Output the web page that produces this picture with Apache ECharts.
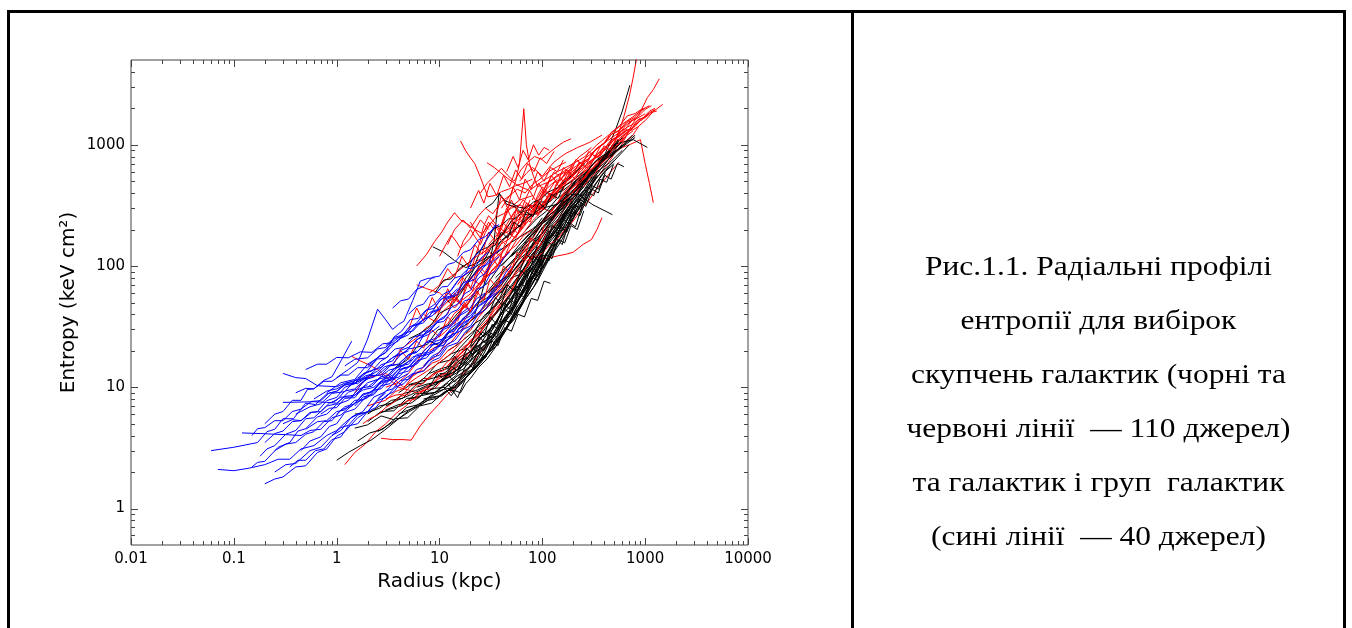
<!DOCTYPE html>
<html><head><meta charset="utf-8">
<script src="https://cdn.jsdelivr.net/npm/echarts@6.0.0/dist/echarts.min.js"></script>
<style>
html,body{margin:0;padding:0;background:#fff;width:1352px;height:628px;overflow:hidden;}
#chart{position:absolute;left:0;top:0;width:1352px;height:628px;}
.b{position:absolute;background:#000;}
#cap{position:absolute;left:854px;width:489px;top:239px;text-align:center;font-family:"Liberation Serif","Times New Roman",serif;font-size:27px;line-height:54px;color:#000;white-space:nowrap;transform:scaleX(1.165);transform-origin:50% 50%;}
</style></head><body>
<div id="chart"></div>
<div class="b" style="left:7px;top:10px;width:1339px;height:3px"></div>
<div class="b" style="left:7px;top:10px;width:3px;height:618px"></div>
<div class="b" style="left:851px;top:10px;width:3px;height:618px"></div>
<div class="b" style="left:1343px;top:10px;width:3px;height:618px"></div>
<div id="cap">Рис.1.1. Радіальні профілі<br>ентропії для вибірок<br>скупчень галактик (чорні та<br>червоні лінії&nbsp; — 110 джерел)<br>та галактик і груп&nbsp; галактик<br>(сині лінії&nbsp; — 40 джерел)</div>
<script>
// ---- axis definitions ----
const xTickValues = [0.01, 0.1, 1, 10, 100, 1000, 10000];
const xTickLabels = ['0.01', '0.1', '1', '10', '100', '1000', '10000'];
const yTickValues = [1, 10, 100, 1000];
const yTickLabels = ['1', '10', '100', '1000'];
const minorMultipliers = [2, 3, 4, 5, 6, 7, 8, 9];
const xRange = [0.01, 10000];
const yRange = [0.5, 5000];
const xTitle = 'Radius (kpc)';
const yTitle = 'Entropy (keV cm²)';

// ---- entropy profiles [radius kpc, K keV cm^2] ----
const blackProfiles = [
 [[1,2.5],[1.3,2.9],[1.7,3.3],[2.2,3.7],[2.9,4.4],[3.8,5.3],[5,6.4],[6.5,7.4],[8.5,8.7],[11,10.4],[14.5,12.5],[19,17.9],[25,21]],
 [[1.5,4.6],[2,4.9],[2.7,5.8],[3.6,5.4],[4.8,6.8],[6.3,7.2],[8.3,8.4],[11,9.6],[14.5,12.2],[19,14.2],[25,20.5],[33,26],[44,38],[58,53],[77,84],[100,120]],
 [[3,6.5],[4,7.2],[5.3,7.4],[7,8.8],[9.2,9.1],[12,10.8],[15,8.2],[18,11.9],[23,14.6],[30,22.5],[39,28],[51,45],[67,61],[88,97],[115,136],[160,225]],
 [[2,5.2],[2.7,6.3],[3.6,6.4],[4.8,8.1],[6.3,8.2],[8.4,10.7],[11,11.3],[14.5,15.2],[19,17.8],[25,25.5],[33,30],[44,47],[58,64],[77,100],[100,136],[135,210],[200,330]],
 [[5,10.5],[6.6,11.2],[8.7,11.9],[11.5,13.3],[15,16.1],[20,19.6],[26,26],[35,34],[46,49],[61,72],[80,105],[106,154],[140,200],[185,295],[245,355],[350,560]],
 [[10,13],[12,12.8],[14,11],[17,13.4],[21,15.6],[26,23.5],[33,26.5],[42,41],[54,51],[70,81],[90,109],[115,164],[150,215],[195,298],[250,380],[330,530],[500,740]],
 [[20,21],[26,28.5],[33,25.5],[42,36],[54,46],[70,70],[90,91],[115,131],[150,186],[195,255],[250,333],[330,480],[450,670],[700,1000]],
 [[8.6,144],[11,130],[14,111],[18,97],[22,104],[28,116],[36,128],[46,150],[60,173],[80,202],[100,235],[140,295],[200,395]],
 [[40,60],[50,80],[62,86],[78,123],[100,157],[125,210],[160,255],[200,365],[250,442],[320,650],[400,810],[510,1300],[600,1900],[710,3100]],
 [[3,7],[4,7.9],[5.3,8.7],[7,9.8],[9.2,10.6],[12,12.5],[16,14.4],[21,18.5],[28,22.6],[37,31.6],[48,43],[63,62],[83,93],[110,145],[145,196],[190,276],[260,402],[400,640]],
 [[6,10],[7.8,10.7],[10,11.1],[13,13.8],[17,15.7],[22,21.2],[29,24.5],[38,38.8],[50,52],[66,79],[86,104],[113,163],[150,221],[195,311],[260,412],[340,600],[450,710],[600,900]],
 [[4,9],[5.2,10.5],[6.8,10.8],[9,13.2],[12,14.3],[16,19.1],[21,22.5],[28,30.6],[37,43],[48,58],[64,84],[84,120],[110,167],[145,245],[190,323],[250,450],[320,550]],
 [[2.5,6],[3.3,6.6],[4.4,7.1],[5.8,8.8],[7.6,9],[10,11.1],[13,12.3],[17,16.1],[22,19.2],[29,27.5],[38,38],[50,54],[66,74],[87,112],[120,190]],
 [[12,20],[15,22.5],[19,26.5],[24,31.6],[31,41],[40,53],[52,70],[68,98],[88,132],[115,184],[150,245],[195,337],[250,412],[330,612],[430,745],[560,918],[800,1150]],
 [[15,30],[19,33.6],[24,41],[31,51],[40,64.7],[52,90],[68,119],[88,163],[115,215],[150,306],[195,382],[250,530],[330,676],[450,850]],
 [[10,16],[13,18.9],[17,20.6],[22,25.5],[28,32.3],[36,40.8],[47,53.9],[61,80.6],[80,103],[105,153],[135,196],[175,286],[230,372],[300,500],[390,666],[520,900]],
 [[7,9],[9,9.8],[11.5,10],[15,11.8],[19.5,13.2],[25,17.1],[32,20.1],[41,28.6],[53,36.3],[68,53],[88,72.5],[115,112],[150,157],[190,224],[240,330]],
 [[20,35],[25,40.8],[32,49],[41,63.2],[53,84.3],[68,112],[88,147],[113,204],[145,265],[190,357],[240,451],[310,632],[400,764],[480,1000]],
 [[2,6],[2.6,7],[3.4,7.4],[4.5,8.9],[5.9,9.4],[7.7,10.4],[10,11.3],[13,12.4],[17,14.1],[22,17.9],[29,21.6],[38,30.6],[49,39.2],[64,59],[83,81],[100,110]],
 [[30,55],[38,73.4],[48,88],[61,122],[78,147],[100,209],[128,255],[163,347],[208,431],[265,571],[340,686],[480,950]],
 [[8,13],[10,14.1],[12.5,14.9],[16,17.9],[20,19.6],[26,26.5],[33,31.4],[42,42.8],[54,55.9],[69,81.6],[88,106],[112,153],[143,206],[183,296],[250,420]],
 [[5,8],[6.5,8.5],[8.5,8.9],[11,9.6],[14,10],[18,12.6],[23,14.7],[29,19.4],[37,24.5],[47,33.7],[60,45],[77,67.3],[98,93],[125,138],[160,181],[200,250]],
 [[13,9],[16,10.5],[19,12.5],[23,16],[28,17.6],[34,23.5],[42,28.4],[52,38.8],[64,51],[78,71.4],[96,90],[120,133],[150,171],[190,255],[280,400]],
 [[40,100],[50,122],[63,147],[79,184],[100,235],[125,296],[160,353],[200,469],[250,549],[320,714],[420,833],[600,1050]],
 [[25,50],[31,57],[39,68.6],[49,86],[62,110],[78,143],[98,181],[124,245],[156,304],[197,388],[250,490],[310,632],[400,750]],
 [[3,12],[3.8,14.8],[4.8,16.7],[6,21.4],[7.6,22.5],[9.6,29.6],[12,32.3],[15,40.8],[19,49],[24,63.2],[30,73.5],[38,97.9],[48,118],[61,153],[77,186],[100,250]],
 [[1.5,6],[2,6.2],[2.6,6.7],[3.4,7.8],[4.4,8.1],[5.7,10.2],[7.4,12.3],[9.6,15.8],[12.5,16.7],[16,21.4],[21,27.4],[27,38.8],[35,47],[45,70]],
 [[60,150],[76,189],[96,225],[121,296],[153,353],[193,449],[244,529],[308,694],[390,794],[490,1000],[620,1060],[770,1100],[1050,950]],
 [[50,120],[63,143],[80,172],[100,224],[126,265],[160,347],[200,412],[250,530],[320,627],[400,775],[500,862],[640,1020],[800,1200]],
 [[18,28],[22,33.7],[27,37.2],[33,45.9],[41,56.8],[50,69.4],[62,88.2],[76,117],[94,147],[116,204],[143,245],[176,326],[217,392],[268,510],[330,608],[420,796],[560,1000]],
 [[9,12],[11,12.4],[13.5,13.2],[16.5,14.8],[20,16.7],[25,20],[31,23.5],[38,31.6],[47,39.2],[58,53],[72,68.6],[89,94.9],[110,125],[136,173],[168,225],[210,316],[260,402],[340,560]],
 [[22,40],[26,61],[30,98],[34,163],[38,400],[45,323],[55,306],[65,265],[75,265],[90,270],[110,306],[140,323],[180,388],[220,392],[310,320],[480,265]],
 [[15,60],[18,79.6],[21,93],[25,133],[29,167],[34,204],[40,216],[47,245],[55,245],[65,281],[77,294],[91,337],[110,338],[130,388],[160,421],[220,520]],
 [[12,50],[15,59],[18,70.6],[22,97],[27,110],[32,143],[39,157],[47,184],[57,206],[69,245],[84,270],[100,306],[125,353],[160,449],[200,510],[250,600]],
 [[100,200],[125,250],[155,294],[195,388],[240,461],[300,571],[370,686],[460,847],[570,941],[750,1200]],
 [[5,25],[6.3,27.5],[8,31.4],[10,40.8],[12.5,45],[16,59],[20,78.4],[25,102],[32,122],[40,163],[50,186],[63,224],[80,265],[110,330]],
 [[30,60],[37,73.4],[46,82.3],[57,110],[71,129],[88,168],[110,206],[136,265],[170,323],[210,418],[260,510],[330,653],[400,764],[520,1000]],
 [[7,8],[8.5,8.3],[10,8.5],[12,9.4],[14,9.4],[16,9],[18,10.7],[20,11.8],[24,14.6],[29,17.1],[35,21.4],[42,27.4],[51,36.7],[62,47],[75,69.4],[100,120]],
 [[2.5,4.3],[3.2,4.9],[4,5.5],[5.1,6.3],[6.5,7.1],[8.2,8.1],[10.5,8.5],[13,9.8],[17,11.4],[21,14.1],[27,17.2],[34,23],[43,29.4],[55,40.8],[70,57],[90,86.7],[110,108],[140,160]],
 [[35,80],[44,96.9],[55,113],[69,145],[86,172],[108,224],[135,270],[170,347],[212,412],[265,530],[330,637],[420,816],[560,1100]],
 [[70,200],[88,245],[110,284],[138,357],[172,412],[215,510],[270,598],[340,755],[430,862],[550,1100]],
 [[11,10],[12,9.2],[13,8.5],[14.5,9.7],[16,10.8],[18,12],[21,13.5],[25,16.8],[30,19.6],[36,25.5],[44,30.4],[54,42.8],[66,55.9],[81,79.6],[100,108],[125,153],[160,206],[200,310]],
 [[4,6],[5,6.5],[6.2,7],[7.7,7.8],[9.5,8.1],[12,9.4],[15,11.1],[19,14.1],[24,17.2],[30,23.5],[37,28.4],[46,38.8],[57,51],[71,71.4],[95,120]],
 [[80,180],[100,224],[125,255],[155,326],[195,382],[245,490],[305,578],[380,734],[480,833],[600,1000]],
 [[28,300],[33,330],[38,390],[44,343],[50,330],[60,304],[70,300],[82,337],[96,353],[115,408],[140,441],[180,530],[260,700]],
 [[1.6,3.6],[2.1,4.2],[2.8,4.5],[3.7,5.5],[4.9,5.6],[6.4,7],[8.4,7.4],[11,9.1],[14.5,10],[19,12.6],[25,15.7],[33,21.4],[43,28.4],[56,41]],
 [[8,24],[10,22],[12.5,28.6],[15.5,33.3],[19,40.8],[24,51],[30,63.2],[37,78.4],[46,100],[57,122],[71,163],[88,196],[110,250],[137,294],[170,377],[210,441],[300,580]],
 [[15,11],[18.5,13.3],[23,14.7],[28,18.4],[35,21.6],[43,29.6],[53,36.3],[66,51],[82,66.6],[100,93.8],[125,127],[155,178],[190,235],[240,316],[300,412],[380,571],[500,700]],
 [[9,60],[11,76.5],[13,78.4],[16,96.9],[20,108],[24,133],[29,142],[35,163],[42,186],[50,235],[60,265],[72,320]],
 [[25,30],[31,36.7],[38,44.1],[47,56.1],[58,68.6],[72,93.8],[89,118],[110,163],[136,206],[168,286],[208,363],[257,490],[318,608],[393,796],[486,941],[600,1150]],
 [[20,22],[23,30],[27,26],[31,38],[36,33],[42,50],[48,44],[56,68],[65,60],[75,92],[87,82],[100,125],[116,110],[135,170],[156,150],[181,230],[210,210],[245,320]],
 [[30,40],[35,55],[40,48],[46,70],[53,62],[62,92],[72,82],[83,120],[96,108],[111,160],[129,145],[150,210],[173,190],[200,280],[232,260],[270,360]],
 [[12,14],[14,18],[16,15.5],[18.5,21],[21,18.5],[24.5,26],[28,23],[32.5,33],[37,30],[43,44],[50,40],[58,60],[67,55],[78,82],[90,76],[105,115]],
 [[60,90],[70,125],[80,112],[93,165],[108,148],[125,215],[145,195],[168,280],[195,255],[226,360],[262,330],[304,460],[352,430],[410,590]],
 [[40,40],[46,55],[53,50],[61,72],[70,66],[81,95],[93,88],[107,125],[124,115],[143,165],[165,155],[190,215],[219,200],[253,285]],
 [[16,12],[18.5,16],[21,14.5],[24.5,19],[28,17.5],[32.5,24],[37,22],[43,31],[50,29],[58,40],[67,38],[78,54],[90,52],[104,75],[120,72]],
 [[100,140],[115,195],[133,175],[154,250],[178,225],[205,320],[237,290],[274,410],[316,380],[365,520],[422,490],[490,680]],
 [[8,10],[9.5,13],[11,11.5],[13,15],[15,13.5],[17.5,18],[20,16.5],[23.5,22],[27,20],[31.5,28],[36,26],[42,36],[49,34],[57,47]],
 [[200,250],[230,340],[265,310],[305,430],[350,400],[405,560],[466,520],[537,700],[620,660]],
 [[35,150],[40,190],[46,170],[53,230],[61,210],[70,280],[81,255],[93,330],[107,300],[123,390],[142,360],[163,460]]
];

const redProfiles = [
 [[1.2,2.3],[1.5,2.9],[1.9,3.4],[2.4,4.3],[3,5],[3.8,6.1],[4.8,7.1],[6,8.6],[7.6,9.7],[9.6,11.6],[12,12.9],[15,16.2],[20,20]],
 [[2.7,3.8],[3.5,3.7],[4.4,3.7],[5.3,3.66],[6.5,4.8],[8,6],[9.8,7.2],[12,8.8],[14,9.8],[17,13],[20,14.7],[24,18.4],[28,22]],
 [[6,100],[7.5,125],[9,160],[10.5,190],[12,230],[14,275],[16,240],[19,220],[22,200],[26,185],[30,215],[35,250],[42,270],[50,300],[60,320]],
 [[16,1075],[18,890],[20,780],[22,700],[25,540],[29.5,372],[34,380],[40,410],[47,430],[55,460],[65,480],[80,520]],
 [[40,300],[45,350],[50,400],[55,500],[60,700],[63,1200],[66,1980],[70,1000],[75,700],[82,550],[90,450],[100,470],[120,500],[145,560],[170,600]],
 [[29,710],[34,650],[40,580],[47,520],[56,470],[65,440],[75,420],[87,460],[100,500],[120,550],[140,600],[170,650],[200,700]],
 [[300,600],[360,680],[450,800],[520,880],[600,950],[700,1000],[800,1050],[900,1100],[1000,700],[1100,480],[1200,333]],
 [[300,600],[360,720],[430,850],[500,1050],[560,1300],[620,1700],[700,2500],[760,3500],[820,5000],[850,5600]],
 [[300,500],[360,610],[450,780],[540,970],[650,1180],[770,1530],[900,1860],[1050,2450],[1200,2850],[1370,3500]],
 [[350,550],[420,670],[500,840],[600,1020],[750,1180],[870,1430],[1000,1580],[1200,1880],[1480,2150]],
 [[30,60],[37,71],[45,79],[56,97],[70,120],[85,118],[110,115],[140,121],[170,125],[200,130],[250,151],[300,165],[340,200],[380,250]],
 [[6,70],[7.5,65],[10,60],[12,52],[14,45],[16,51],[20,59],[24,71],[28,79],[34,97],[40,108],[47,133],[55,147],[66,179],[80,200]],
 [[1.4,18],[1.7,16.5],[2.1,15.2],[2.5,14],[3.1,12],[4,10],[5,9.5],[6,9],[7.5,9.6],[9,9.8],[11,11.8],[13,12.7],[15.5,15.8],[18,17.6],[21,21.4],[25,25]],
 [[8,20],[10,22.4],[12,24.5],[14.5,30.6],[17,34.3],[20,42.8],[24,49],[29,59.2],[34,68.6],[41,85.7],[48,98],[57,122],[68,147],[80,184],[95,216],[115,270],[135,314],[160,388],[190,451],[230,551],[270,627],[320,765],[380,862],[450,1060],[540,1180],[640,1430],[760,1600]],
 [[10,30],[12,33.3],[14,40.8],[17,46],[20,56.1],[24,65.7],[28,81.6],[34,90],[40,112],[48,132],[56,163],[67,191],[80,235],[96,274],[115,337],[135,392],[160,480],[195,539],[230,663],[280,745],[330,918],[400,1040],[470,1270],[560,1420],[670,1730],[800,1810],[950,2000]],
 [[20,80],[24,90],[28,112],[34,122],[40,153],[48,167],[56,204],[67,225],[80,275],[96,314],[115,377],[135,421],[160,510],[195,568],[230,694],[280,764],[330,918],[400,1020],[470,1220],[560,1300],[670,1530],[800,1620],[1000,1800]],
 [[15,120],[17,160],[20,200],[22,175],[25,150],[28,190],[32,230],[36,205],[40,180],[47,220],[55,260],[64,295],[75,320],[87,310],[100,300],[120,360],[140,420],[170,470],[200,520]],
 [[40,200],[45,280],[50,350],[55,300],[60,260],[67,340],[75,420],[82,370],[90,330],[100,400],[110,480],[125,520],[140,560],[160,600],[180,640],[205,720],[230,800],[265,870],[300,950]],
 [[100,400],[115,500],[130,600],[145,550],[160,500],[180,600],[200,700],[230,750],[260,800],[300,900],[340,1000],[390,1100],[440,1200],[510,1320],[580,1450],[670,1580],[760,1700],[870,1850],[1000,2000]],
 [[3,8],[3.7,8.6],[4.5,8.8],[5.2,10.2],[6,10.8],[7,11.8],[8,11.8],[9.5,13.3],[11,13.7],[13,16.3],[15,17.6],[18,21.4],[21,24.5],[25,31.6],[30,37.2],[36,49],[42,58.8],[50,76.5],[60,93],[72,122],[85,147],[100,189],[120,230]],
 [[5,12],[6,13.3],[7,13.7],[8.5,15.8],[10,16.7],[12,19.9],[14,21.6],[17,26.5],[20,29.4],[24,37.7],[28,44.1],[34,57],[40,68.6],[47,89.8],[56,108],[67,138],[80,167],[96,214],[115,255],[135,316],[160,372],[195,469],[230,549],[280,683],[330,800]],
 [[12,15],[14,17.3],[17,19.6],[20,24.5],[24,27.4],[29,33.7],[34,39.2],[41,49],[48,58.8],[57,77.5],[68,93],[80,122],[95,147],[115,189],[135,225],[160,286],[190,343],[230,439],[270,510],[320,632],[380,735],[450,887],[540,980],[640,1170],[760,1300]],
 [[25,40],[30,46.9],[35,53.9],[42,67.3],[50,78.4],[59,100],[70,118],[84,151],[100,176],[118,224],[140,265],[168,337],[200,392],[236,490],[280,568],[335,704],[400,804],[470,969],[560,1080],[670,1290],[800,1420],[930,1650],[1100,1800]],
 [[60,200],[70,229],[80,255],[95,306],[110,333],[130,398],[150,441],[180,530],[210,588],[250,714],[290,784],[340,938],[400,1030],[470,1220],[560,1320],[660,1550],[780,1670],[920,1940],[1100,2100]],
 [[4,20],[4.8,22.4],[6,25.5],[7.3,30.6],[9,34.3],[11,42.8],[13,49],[15.5,59.2],[18,68.6],[22,85.7],[26,98],[31,120],[36,137],[43,168],[50,186],[60,230],[70,255],[84,306],[100,350]],
 [[2,7],[2.4,7.4],[3,7.8],[3.7,9.2],[4.5,9.8],[5.4,12.2],[6.5,13.7],[7.7,16.3],[9,17.6],[11,21.4],[13,23.5],[15.5,28.6],[18,31.4],[22,38.8],[26,44.1],[31,56.1],[36,63.7],[43,81.6],[50,93],[60,117],[70,140]],
 [[7,40],[8,37],[9,35],[10.5,47],[12,60],[14,55],[16,50],[18,64],[20,80],[22,75],[25,70],[28,90],[32,110],[36,120],[40,130],[45,145],[50,160],[57,185],[65,210]],
 [[30,150],[35,175],[40,200],[47,185],[55,170],[62,210],[70,250],[80,280],[90,310],[105,295],[120,280],[140,330],[160,380],[190,430],[220,480],[260,550],[300,620],[350,700],[400,780]],
 [[80,300],[90,380],[100,450],[110,415],[120,380],[135,450],[150,520],[170,570],[190,620],[215,670],[240,720],[270,790],[300,850],[340,920],[380,1000],[430,1080],[480,1150],[550,1250],[620,1350]],
 [[9,40],[11,47],[13,55],[15.5,50],[18,45],[21,57],[24,70],[28,84],[32,100],[38,120],[44,140],[52,165],[60,190],[70,225],[80,260],[95,300],[110,350],[130,410],[150,470],[180,550],[210,640]],
 [[1.8,5],[2.1,5.5],[2.5,5.9],[3,6.8],[3.5,7.4],[4.2,8.4],[5,8.8],[6,10.2],[7,10.8],[8.5,12.7],[10,13.7],[12,16.3],[14,17.6],[17,21.4],[20,23.5],[24,29.6],[28,33.3],[34,42.8],[40,50]],
 [[50,250],[57,300],[65,350],[72,325],[80,300],[90,360],[100,420],[115,400],[130,380],[150,440],[170,500],[195,550],[220,600],[255,660],[290,720],[330,810],[380,900],[440,1000],[500,1100],[570,1200],[650,1300]],
 [[200,400],[230,479],[260,539],[300,632],[340,686],[390,816],[440,882],[500,1040],[570,1130],[650,1300],[740,1370],[840,1580],[960,1670],[1100,1890],[1250,2000]],
 [[150,300],[175,367],[200,412],[230,500],[260,549],[300,663],[340,735],[390,877],[440,960],[510,1130],[580,1230],[670,1400],[760,1470],[870,1630],[1000,1670],[1140,1840],[1300,1900]],
 [[35,130],[40,220],[45,300],[50,250],[55,200],[62,260],[70,330],[80,295],[90,260],[100,320],[115,380],[130,415],[150,450],[175,500],[200,560]],
 [[15,70],[17,81.6],[20,93],[23,110],[27,118],[31,143],[36,157],[42,184],[48,196],[56,235],[64,255],[74,301],[85,323],[100,377],[115,412],[130,485],[150,519],[175,602],[200,660]],
 [[3,10],[3.5,10.5],[4,11],[4.5,12],[5,13],[6,16],[7,20],[8,22],[9,25],[10.5,27],[12,30],[14,36],[16,42],[19,50],[22,60],[26,72],[30,85],[36,100],[42,120]],
 [[120,250],[140,306],[160,343],[185,418],[210,470],[245,571],[280,637],[320,765],[370,833],[430,989],[490,1080],[570,1280],[650,1370],[750,1600],[860,1720],[1000,1960],[1150,2100]],
 [[60,500],[70,580],[80,650],[90,600],[100,550],[115,640],[130,720],[150,790],[170,850],[195,900],[220,950],[255,1000],[290,1050],[330,1120],[380,1200]],
 [[20,230],[22,200],[25,170],[27,215],[30,260],[34,230],[38,200],[43,250],[48,300],[54,325],[60,350],[70,365],[80,380]],
 [[10,120],[11.5,150],[13,180],[14.5,160],[16,140],[18,155],[20,170],[22.5,205],[25,240],[27.5,220],[30,200]],
 [[8,60],[9.5,67],[11,75],[13,82],[15,90],[17.5,100],[20,110],[23,120],[27,130],[31,147],[36,165],[42,185],[48,210],[56,245],[64,280]],
 [[70,110],[85,120],[100,127],[120,153],[140,167],[170,204],[200,235],[240,296],[280,343],[340,439],[400,510],[480,622],[560,720]],
 [[250,450],[290,530],[330,588],[380,714],[430,784],[490,938],[560,1030],[640,1220],[730,1320],[840,1530],[950,1620],[1100,1840],[1250,1950]],
 [[1.5,9],[1.7,10.5],[2,12],[2.5,12.5],[3,13],[3.7,11.5],[4.5,10],[5.2,11],[6,12],[7.5,13.5],[9,15],[11,17],[13,19],[15.5,22.5],[18,26]],
 [[12,150],[14,200],[17,240],[20,205],[24,260],[28,300],[33,270],[40,340],[48,380],[57,430],[68,400],[80,470],[95,520],[115,600],[140,660],[170,720]],
 [[25,400],[29,480],[34,550],[40,640],[46,560],[53,500],[62,620],[72,720],[84,800],[98,760],[115,850],[135,950],[160,1050],[190,1120]],
 [[20,90],[23,130],[26,180],[30,230],[34,200],[39,170],[45,220],[52,270],[60,320],[69,300],[80,280],[92,350],[106,420],[122,470],[140,520]],
 [[4,7],[4.8,7.7],[5.8,8],[7,9.7],[8.4,10.6],[10,12.4],[12,13.2],[14.5,16.3],[17,18.6],[20,22.4],[24,26.5],[29,34.7],[35,41],[42,54],[50,63.7],[60,83.6],[72,100],[86,130],[100,160]],
 [[140,330],[160,398],[185,461],[210,551],[240,608],[280,714],[320,774],[370,898],[420,960],[490,1120],[560,1160],[650,1330],[750,1320],[870,1420]],
 [[20,300],[24,420],[27,330],[31,480],[36,380],[42,560],[48,450],[55,620],[63,520],[72,700],[83,600],[95,780],[110,700],[130,880]],
 [[35,250],[40,380],[46,300],[52,450],[60,350],[68,520],[78,430],[90,600],[104,500],[120,650],[140,600],[160,750]],
 [[5,30],[6,45],[7,35],[8.5,55],[10,42],[12,65],[14,50],[17,80],[20,65],[24,100],[29,85],[35,130],[42,115],[50,160]],
 [[10,70],[12,95],[14,80],[16.5,120],[19,100],[22,150],[26,125],[30,190],[35,160],[41,230],[48,200],[56,290],[65,260],[76,350]],
 [[50,180],[58,260],[67,220],[77,320],[89,270],[103,400],[119,340],[137,480],[158,420],[182,580],[210,520],[242,680],[280,640]],
 [[80,350],[92,480],[106,400],[122,560],[140,480],[161,650],[185,570],[213,760],[245,680],[282,880],[325,800],[374,1000]],
 [[15,35],[17.5,50],[20,42],[23,62],[27,52],[31,78],[36,66],[42,100],[49,86],[57,130],[66,112],[77,170],[90,150],[105,220]],
 [[3.5,15],[4.2,20],[5,17],[6,24],[7,21],[8.3,30],[10,26],[12,38],[14,33],[17,48],[20,42],[24,62]],
 [[150,500],[172,620],[198,560],[228,720],[262,660],[301,840],[346,780],[398,980],[458,900],[527,1120],[606,1050],[700,1300]],
 [[25,100],[29,140],[33,120],[38,170],[44,150],[50,210],[58,185],[66,260],[76,230],[88,320],[101,290],[116,400],[134,360],[154,480]],
 [[45,600],[52,800],[58,650],[65,900],[73,750],[82,1000],[92,820],[104,950],[117,900]],
 [[12,40],[14,60],[16,48],[18.5,75],[21,62],[24,95],[28,80],[32,120],[37,100],[43,150]]
];

const blueProfiles = [
 [[0.06,3.0],[0.1,3.2],[0.17,3.5],[0.21,4.3],[0.25,4.5],[0.3,5.5],[0.38,5.5],[0.5,7.4],[0.62,7.2],[0.8,8.8],[1,9.3],[1.2,10.4],[1.5,10.9],[2,12]],
 [[0.07,2.1],[0.1,2.05],[0.14,2.15],[0.2,2.3],[0.27,2.55],[0.35,2.55],[0.45,3.1],[0.6,3.3],[0.8,4.0],[1,4.4],[1.3,5.4],[1.6,6]],
 [[0.12,4.2],[0.18,4.15],[0.25,4.1],[0.35,4.05],[0.45,4.0],[0.55,4.4],[0.7,4.5],[0.9,5.6],[1.1,5.9],[1.5,7.4],[2,8.2],[2.6,10.6],[3.5,12]],
 [[0.2,1.6],[0.25,1.75],[0.3,1.82],[0.4,2.2],[0.5,2.25],[0.65,2.9],[0.8,3.1],[1,3.95],[1.2,4.3],[1.6,5.6],[2,6.3],[2.5,7.9],[3,9]],
 [[0.3,7.5],[0.45,7.55],[0.6,7.6],[0.8,7.5],[1,7.4],[1.2,8.4],[1.5,8.6],[2,10.9],[2.5,11.6],[3.2,13.8],[4,14.6],[5,18.2],[6,20]],
 [[0.2,5],[0.25,6],[0.3,6.3],[0.37,7.8],[0.45,7.8],[0.52,9.6],[0.6,9.7],[0.75,11.4],[0.9,12.2],[1.1,16.5],[1.4,24]],
 [[0.18,2.7],[0.21,3.1],[0.25,3.3],[0.32,4.1],[0.4,4.4],[0.5,5.5],[0.6,5.6],[0.8,7.0],[1,7.3],[1.3,9.1],[1.6,9.7],[2,12.2],[2.5,13.6],[3.2,16.6],[4,19]],
 [[0.25,2.0],[0.32,2.3],[0.4,2.35],[0.55,3.0],[0.7,3.2],[0.9,4.0],[1.1,4.4],[1.4,5.7],[1.8,6.3],[2.3,8.3],[3,9.2],[3.9,11.6],[5,13]],
 [[0.3,13],[0.4,12.0],[0.5,11.8],[0.65,10.3],[0.8,10.2],[1,10.1],[1.2,10.8],[1.6,11.5],[2,13.4],[2.7,14.6],[3.5,17.6],[4.6,19.4],[6,24.8],[7.8,27.2],[10,32]],
 [[0.15,2.2],[0.17,2.4],[0.2,2.45],[0.27,3.2],[0.35,3.5],[0.42,4.35],[0.5,4.55],[0.65,5.7],[0.8,6.0],[1,7.2],[1.3,7.8],[1.6,9.5],[2,10.5]],
 [[0.4,6.0],[0.55,6.9],[0.7,7.3],[0.9,8.9],[1.2,9.2],[1.5,11.4],[2,12.1],[2.7,15.3],[3.5,16.5],[4.2,20.2],[5,21.3],[6.5,25.9],[8,29],[10,36.2],[12,40]],
 [[0.8,9],[1.1,10.9],[1.5,11.6],[2,15.5],[2.5,17.4],[3.2,21.7],[4,24.2],[5,31],[6,33.8],[7.5,43.5],[9,48.4],[11,59],[13,62.9],[16,80.7],[20,90]],
 [[1,12],[1.3,14],[1.6,16],[2,25],[2.5,44],[3,36],[3.5,30],[4,33],[4.5,35],[5.5,52],[6.5,75],[7.7,79],[9,80]],
 [[2,15],[2.5,17.6],[3,19.3],[4,24.8],[5,27.1],[6.3,34.1],[8,38.7],[10,51.7],[12,58],[15,75.5],[18,87],[21,114],[25,135],[30,176],[35,220]],
 [[0.25,3],[0.32,3.4],[0.4,3.5],[0.5,4.1],[0.6,4.3],[0.75,5.2],[0.9,5.3],[1.1,6.5],[1.4,7.0],[1.8,8.6],[2.2,9.2],[2.8,11.4],[3.5,12.6],[4.5,15.5],[5.5,17]],
 [[0.35,2.2],[0.42,2.5],[0.5,2.5],[0.62,3.0],[0.75,3.1],[0.9,3.7],[1.1,3.9],[1.3,4.8],[1.6,5.0],[2,6.3],[2.4,6.8],[3,8.5],[3.6,9.2],[4.5,11.6],[5.5,13]],
 [[0.5,4.5],[0.65,5.2],[0.8,5.3],[1,6.3],[1.2,6.5],[1.5,7.8],[1.8,7.9],[2.2,9.4],[2.7,9.7],[3.3,11.6],[4,12.1],[5,14.7],[6,15.5],[7.5,19.1],[9,20.3],[11,24.8],[14,28]],
 [[0.7,6],[0.85,6.7],[1,6.8],[1.2,8.1],[1.5,8.2],[1.8,9.9],[2.2,10.2],[2.7,12.2],[3.3,12.6],[4,15],[5,15.5],[6,18.6],[7.5,19.4],[9,23.8],[11,25.2],[13,31],[16,35]],
 [[1.5,7],[1.8,8.3],[2.2,8.7],[2.7,10.3],[3.3,10.7],[4,12.9],[5,13.6],[6,16.5],[7.5,17.5],[9,21.2],[11,22.3],[13,26.9],[16,29.1],[20,37.2],[24,40.7],[29,51.7],[35,60]],
 [[0.4,9],[0.5,9.8],[0.6,9.7],[0.75,11.2],[0.9,11.2],[1.1,12.6],[1.3,12.6],[1.6,14.5],[2,14.5],[2.5,17.1],[3,17.4],[3.7,20.7],[4.5,21.3],[5.6,25.9],[7,27.2],[8.5,32],[10,35]],
 [[1.2,15],[1.5,17],[2,17.5],[2.5,20.7],[3,21.3],[3.7,25.3],[4.5,26.2],[5.5,32],[7,34],[8.5,41.4],[10,43.6],[12,53.7],[15,58.2],[18,72.4],[22,77.6],[27,98.2],[32,110]],
 [[3,22],[3.7,25.9],[4.5,27.1],[5.5,32],[6.5,34],[8,41.4],[9.5,43.6],[11.5,53.7],[14,58.2],[17,72.4],[20,77.6],[24,95],[28,102],[34,126],[40,140]],
 [[0.9,4],[1.1,4.65],[1.3,4.85],[1.6,5.9],[2,6.3],[2.5,7.75],[3,8.25],[3.7,10],[4.5,10.7],[5.6,12.9],[7,13.6],[8.5,16.5],[10,17.5],[12,21.7],[15,23.3],[18,28.9],[22,33]],
 [[0.6,8],[0.8,9.3],[1,9.7],[1.3,10.9],[1.6,10.7],[2,12.4],[2.5,12.6],[3.2,15],[4,15.5],[5,18.6],[6,19.4],[7.5,23.8],[9,25.2],[11,31],[13,33],[16,40.3],[19,45]],
 [[2,10],[2.5,11.6],[3,12.1],[3.7,14.5],[4.5,15],[5.5,17.8],[6.5,18.4],[8,22.2],[10,23.3],[12,27.9],[14,29.1],[17,36.2],[20,38.8],[25,48.6],[30,53.4],[37,68.2],[45,80]],
 [[0.45,3],[0.55,3.6],[0.7,3.9],[0.85,4.75],[1,5.0],[1.2,6.2],[1.5,6.6],[1.9,8.2],[2.3,8.7],[2.9,10.9],[3.5,11.6],[4.2,14],[5,14.6],[6.2,17.6],[7.5,19]],
 [[1,6],[1.2,6.9],[1.5,7.3],[1.8,8.8],[2.2,9.2],[2.7,11.1],[3.3,11.6],[4,14],[5,14.6],[6,17.6],[7,18.4],[8.5,22.2],[10,23.3],[12,28.4],[14,30.1],[17,37.2],[20,40.7],[24,51.7],[28,58]],
 [[4,18],[5,20.7],[6,21.3],[7,26.9],[8,29.1],[9.5,35.2],[11,36.9],[13,45.5],[15,48.5],[17.5,58.9],[20,63],[24,79.6],[28,87.3],[33,109],[38,120]],
 [[0.3,5],[0.37,5.4],[0.45,5.3],[0.57,6.2],[0.7,6.3],[0.85,7.4],[1,7.8],[1.2,9.3],[1.5,9.7],[1.9,11.6],[2.3,12.1],[2.9,14.7],[3.5,15.5],[4.2,18.6],[5,20]],
 [[5,40],[6,46.5],[7,48.5],[8,56.9],[9,58.2],[10.5,67.2],[12,67.9],[14,79.6],[16,82.5],[19,95],[22,97],[26,119],[30,130]],
 [[2.5,8],[3,9.3],[3.5,9.7],[4.2,11.4],[5,11.6],[6,14],[7,14.6],[8.5,17.6],[10,18.4],[12,22.8],[14,24.2],[17,30],[20,32],[24,40.3],[28,43.6],[34,56.9],[40,65]],
 [[0.2,3.5],[0.25,4.15],[0.3,4.35],[0.37,5.2],[0.45,5.3],[0.55,6.2],[0.65,6.3],[0.8,7.75],[1,8.25],[1.2,10],[1.5,10.7],[1.8,12.9],[2.2,13.6],[2.7,16.5],[3.2,18]],
 [[6,26],[7,29],[8,29.1],[9.5,34.1],[11,34.9],[13,41.4],[15,43.6],[17.5,51.7],[20,53.4],[23,64.1],[27,67.9],[31,84.8],[36,92.2],[42,116],[48,130]],
 [[1.8,11],[2.2,12.4],[2.7,12.6],[3.3,15],[4,15.5],[5,18.6],[6,19.4],[7.5,23.3],[9,24.2],[11,30],[13,32],[16,39.3],[19,42.7],[23,53.8],[28,60]],
 [[0.15,4],[0.17,4.55],[0.2,4.65],[0.25,5.3],[0.3,5.3],[0.37,6.3],[0.45,6.6],[0.57,7.65],[0.7,7.75],[0.85,9],[1,9.2],[1.2,10.6],[1.5,10.7],[1.9,12.4],[2.3,13]],
 [[7,15],[8.5,18.1],[10,19.4],[12,24.8],[14,27.1],[17,34.1],[20,36.9],[24,46.5],[28,50.4],[33,64.1],[38,69.8],[44,87.9],[50,100]],
 [[0.5,14],[0.65,15.5],[0.8,15.5],[1,17.6],[1.3,17.5],[1.7,19.6],[2.2,19.4],[2.8,22.8],[3.5,23.3],[4.5,27.9],[5.5,29.1],[7,36.2],[8.5,38.8],[10,45]],
 [[3.5,45],[4.2,51.7],[5,53.4],[6,64.1],[7,67.9],[8.5,80.7],[10,82.5],[12,103],[14,107],[17,129],[20,136],[24,165],[28,175],[34,207],[38,220]],
 [[1.3,10],[1.6,11.9],[2,13.6],[2.5,17.6],[3,19.4],[3.6,25.9],[4.3,29.1],[5.2,36.2],[6.2,36.9],[7.4,43.4],[8.8,44.6],[10.5,53.8],[12.5,56.3],[15,65]],
 [[0.9,7.5],[1.1,8.3],[1.4,8.3],[1.8,9.5],[2.3,10],[2.9,11.8],[3.6,12.1],[4.5,14.5],[5.6,15],[7,18.1],[8.7,19.4],[11,23.8],[13.5,26.2],[17,33.1],[21,38]]
];

const colors = { black: '#000000', red: '#ff0000', blue: '#0000ff' };

// ---- build chart ----
const chart = echarts.init(document.getElementById('chart'), null, { renderer: 'canvas' });

function lineSeries(data, color, z) {
  return { type: 'line', data: data, showSymbol: false, symbol: 'none', silent: true,
    animation: false, z: z, lineStyle: { width: 1, color: color } };
}

const series = [];
const nRB = Math.max(redProfiles.length, blackProfiles.length);
for (let i = 0; i < nRB; i++) {
  if (i < redProfiles.length) series.push(lineSeries(redProfiles[i], colors.red, 2));
  if (i < blackProfiles.length) series.push(lineSeries(blackProfiles[i], colors.black, 2));
}
blueProfiles.forEach(p => series.push(lineSeries(p, colors.blue, 3)));

function minorOf(majors, lo, hi) {
  const out = [];
  const decades = [majors[0] / 10].concat(majors);
  decades.forEach(d => minorMultipliers.forEach(m => { const v = d * m; if (v > lo && v < hi) out.push(v); }));
  return out;
}
const xMinor = minorOf(xTickValues, xRange[0], xRange[1]);
const yMinor = minorOf(yTickValues.concat([10000]), yRange[0], yRange[1]);

series.push({
  type: 'custom', silent: true, z: 10, clip: false, animation: false, data: [0],
  renderItem: function (params, api) {
    const cs = params.coordSys;
    const x0 = cs.x, x1 = cs.x + cs.width, y0 = cs.y, y1 = cs.y + cs.height;
    const st = { stroke: '#444', lineWidth: 1 };
    const ch = [];
    const seg = (a, b, c, d) => ch.push({ type: 'line', shape: { x1: a, y1: b, x2: c, y2: d }, style: st });
    const px = v => Math.round(api.coord([v, 1])[0]) + 0.5;
    const py = v => Math.round(api.coord([1, v])[1]) + 0.5;
    xTickValues.forEach(v => { const p = px(v); seg(p, y1, p, y1 - 7); seg(p, y0, p, y0 + 7); });
    xMinor.forEach(v => { const p = px(v); seg(p, y1, p, y1 - 4); seg(p, y0, p, y0 + 4); });
    yTickValues.forEach(v => { const p = py(v); seg(x0, p, x0 + 7, p); seg(x1, p, x1 - 7, p); });
    yMinor.forEach(v => { const p = py(v); seg(x0, p, x0 + 4, p); seg(x1, p, x1 - 4, p); });
    return { type: 'group', children: ch };
  }
});

function labelFor(values, labels) {
  return function (v) {
    for (let i = 0; i < values.length; i++) {
      if (Math.abs(Math.log10(v) - Math.log10(values[i])) < 1e-6) return labels[i];
    }
    return '';
  };
}

chart.setOption({
  animation: false,
  backgroundColor: 'transparent',
  grid: { left: 131, right: 604, top: 60, bottom: 83, show: true, borderColor: '#444', borderWidth: 1, backgroundColor: 'transparent' },
  xAxis: {
    type: 'log', logBase: 10, min: xRange[0], max: xRange[1], splitNumber: 6,
    name: xTitle, nameLocation: 'middle', nameGap: 23,
    nameTextStyle: { fontFamily: 'DejaVu Sans', fontSize: 20, color: '#000' },
    axisLine: { show: false }, axisTick: { show: false }, splitLine: { show: false }, minorTick: { show: false },
    axisLabel: { margin: 7, fontFamily: 'DejaVu Sans', fontSize: 15, color: '#000', formatter: labelFor(xTickValues, xTickLabels) }
  },
  yAxis: {
    type: 'log', logBase: 10, min: yRange[0], max: yRange[1], splitNumber: 4,
    name: yTitle, nameLocation: 'middle', nameGap: 52,
    nameTextStyle: { fontFamily: 'DejaVu Sans', fontSize: 20, color: '#000' },
    axisLine: { show: false }, axisTick: { show: false }, splitLine: { show: false }, minorTick: { show: false },
    axisLabel: { margin: 6, fontFamily: 'DejaVu Sans', fontSize: 15, color: '#000', formatter: labelFor(yTickValues, yTickLabels) }
  },
  series: series
});
</script>
</body></html>
